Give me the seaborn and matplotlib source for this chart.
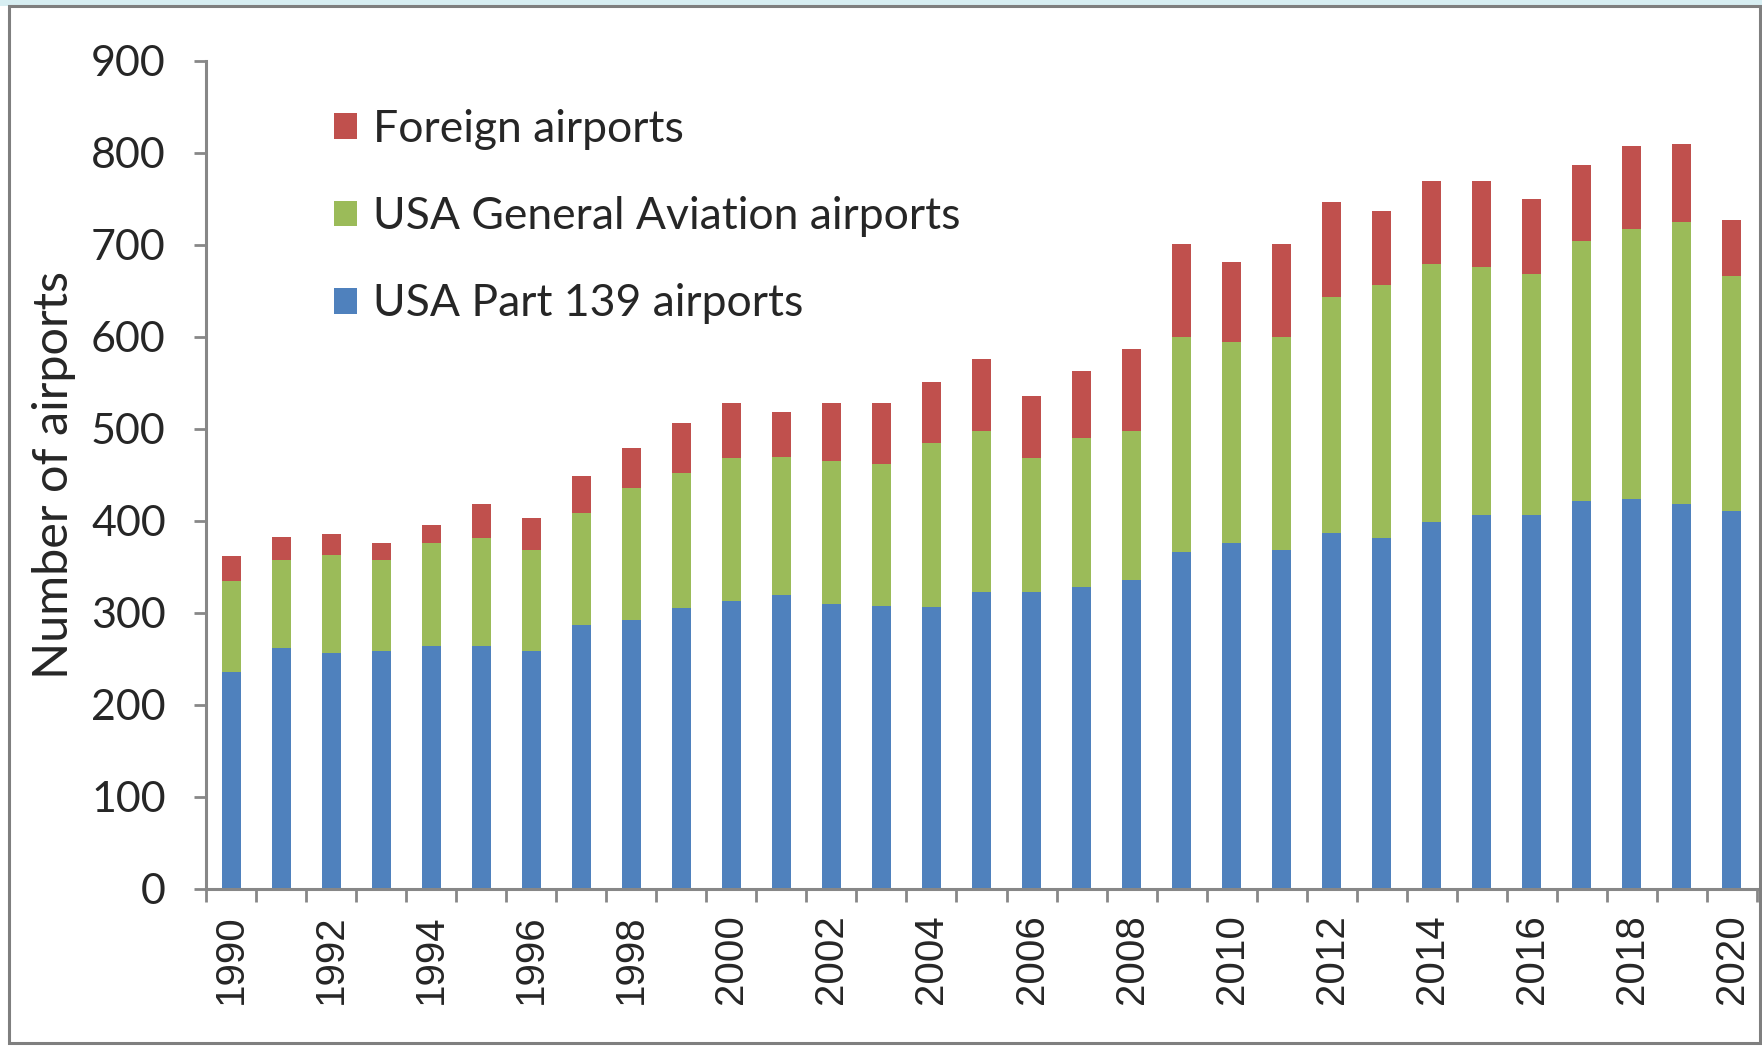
import numpy as np
import pandas as pd
import seaborn as sns
import matplotlib.pyplot as plt
from matplotlib.patches import Rectangle

sns.set_style("white")
plt.rcParams['font.family'] = ['Lato', 'DejaVu Sans']

# Data
years = list(range(1990, 2021))
part139 = [236, 262, 256, 259, 264, 264, 259, 287, 292, 305, 313, 320, 310, 308, 307, 323,
           323, 328, 336, 366, 376, 369, 387, 381, 399, 406, 406, 422, 424, 419, 411]
general = [99, 96, 107, 99, 112, 117, 109, 122, 144, 147, 155, 150, 155, 154, 178, 175,
           145, 162, 162, 234, 219, 231, 256, 275, 280, 270, 262, 282, 293, 306, 255]
foreign = [27, 25, 23, 18, 20, 38, 35, 40, 43, 55, 60, 48, 63, 66, 66, 78,
           68, 73, 89, 101, 86, 101, 104, 81, 91, 94, 82, 83, 91, 85, 61]

df = pd.DataFrame({"year": [str(y) for y in years],
                   "part139": part139, "general": general, "foreign": foreign})
df["lvl2"] = df["part139"] + df["general"]
df["lvl3"] = df["lvl2"] + df["foreign"]

blue, green, red = "#4F81BD", "#9BBB59", "#C0504D"
gray = "#878787"

fig = plt.figure(figsize=(17.62, 10.46), dpi=100)
ax = fig.add_axes([206 / 1762, 157 / 1046, 1551 / 1762, 828 / 1046])

# stacked bars by overlaying cumulative totals
sns.barplot(data=df, x="year", y="lvl3", color=red, width=0.38, saturation=1,
            linewidth=0, label="Foreign airports", ax=ax)
sns.barplot(data=df, x="year", y="lvl2", color=green, width=0.38, saturation=1,
            linewidth=0, label="USA General Aviation airports", ax=ax)
sns.barplot(data=df, x="year", y="part139", color=blue, width=0.38, saturation=1,
            linewidth=0, label="USA Part 139 airports", ax=ax)

ax.set_xlim(-0.5, len(years) - 0.5)
ax.set_ylim(0, 900)
ax.set_yticks(range(0, 901, 100))
ax.tick_params(axis="y", which="major", direction="out", length=9, width=2, color=gray,
               pad=20, labelsize=31, left=True)

# ticks between categories, labels every other year under the bars
ax.set_xticks(np.arange(-0.5, len(years), 1))
ax.set_xticklabels([])
ax.set_xticks(np.arange(0, len(years), 2), minor=True)
ax.set_xticklabels(years[::2], minor=True, rotation=90, family=['Liberation Sans'],
                   fontsize=29)
ax.tick_params(axis="x", which="major", direction="out", length=9, width=2, color=gray,
               bottom=True)
ax.tick_params(axis="x", which="minor", length=0, pad=18)

for s in ["top", "right"]:
    ax.spines[s].set_visible(False)
for s in ["left", "bottom"]:
    ax.spines[s].set_color(gray)
    ax.spines[s].set_linewidth(2.2)

ax.set_xlabel("")
ax.set_ylabel("Number of airports", fontsize=35)
ax.yaxis.set_label_coords(-0.0835, 0.5)

handles, labels = ax.get_legend_handles_labels()
ax.legend(handles, labels, loc="upper left", bbox_to_anchor=(334 / 1762, 1 - 109 / 1046),
          bbox_transform=fig.transFigure, frameon=False, fontsize=32,
          handlelength=0.52, handleheight=0.52, handletextpad=0.35,
          labelspacing=1.04, borderpad=0, borderaxespad=0)

# screenshot frame and light slide background above it
fig.patch.set_facecolor("white")
fig.add_artist(Rectangle((0, 1 - 6 / 1046), 1, 6 / 1046, transform=fig.transFigure,
                         facecolor="#d7eef2", edgecolor="none", zorder=-1))
fig.add_artist(Rectangle((9 / 1762, 3 / 1046), 1751 / 1762, 1037 / 1046,
                         transform=fig.transFigure, facecolor="none",
                         edgecolor="#7f7f7f", linewidth=2.2))

plt.savefig("out.png", dpi=100)
